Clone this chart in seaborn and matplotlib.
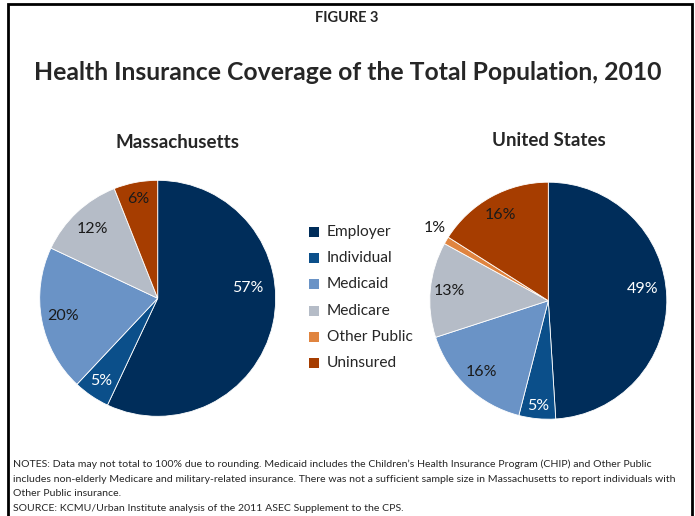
import numpy as np
import matplotlib
matplotlib.use("Agg")
import matplotlib.pyplot as plt
import seaborn as sns

sns.set_theme(style="white")
plt.rcParams['font.family'] = ['Lato', 'DejaVu Sans']

categories = ["Employer", "Individual", "Medicaid", "Medicare", "Other Public", "Uninsured"]
ma_values = [57, 5, 20, 12, 0, 6]
us_values = [49, 5, 16, 13, 1, 16]
panel_titles = ["Massachusetts", "United States"]

colors = sns.color_palette(["#002D5A", "#0B4F8A", "#6A93C6", "#B5BCC7", "#E0843F", "#A63D00"])
label_colors = ["white", "white", "#1a1a1a", "#1a1a1a", "#1a1a1a", "#1a1a1a"]

W, H = 695, 516
fig = plt.figure(figsize=(W / 100, H / 100), dpi=100)

# frame
fig.add_artist(plt.Rectangle((8 / W, -0.01), (692 - 8) / W, (516 - 4) / H + 0.01,
                             transform=fig.transFigure, fill=False, edgecolor="black", lw=2))

def px_axes(cx, cy, r):
    return fig.add_axes([(cx - r) / W, (H - cy - r) / H, 2 * r / W, 2 * r / H])

def draw_pie(ax, values, dists, shifts):
    wedges, _ = ax.pie(values, colors=colors, startangle=90, counterclock=False,
                       radius=1, wedgeprops=dict(edgecolor="white", linewidth=0.6))
    for w, v, d, s, tc in zip(wedges, values, dists, shifts, label_colors):
        if v == 0:
            w.set_visible(False)
            continue
        ang = np.deg2rad((w.theta1 + w.theta2) / 2 + s)
        ax.text(d * np.cos(ang), d * np.sin(ang), f"{v}%", ha="center", va="center",
                fontsize=11.5, color=tc if d < 1 else "#1a1a1a")
    ax.set_xlim(-1, 1)
    ax.set_ylim(-1, 1)
    ax.set_aspect("equal")
    ax.axis("off")

ax1 = px_axes(157.7, 298.3, 118)
draw_pie(ax1, ma_values, [0.77, 0.85, 0.82, 0.81, 0.85, 0.86], [19, 0, 0, 0, 0, 0])
ax2 = px_axes(548.3, 300.7, 118.5)
draw_pie(ax2, us_values, [0.80, 0.89, 0.83, 0.84, 1.14, 0.83], [5, 0, 0, 0, -2, 0])

fig.text(347 / W, 1 - 18 / H, "FIGURE 3", ha="center", va="center", fontsize=10.5, fontweight="bold")
fig.text(348 / W, 1 - 73 / H, "Health Insurance Coverage of the Total Population, 2010",
         ha="center", va="center", fontsize=17.8, fontweight="bold")
fig.text(178 / W, 1 - 142 / H, panel_titles[0], ha="center", va="center", fontsize=13.5, fontweight="bold")
fig.text(549 / W, 1 - 141 / H, panel_titles[1], ha="center", va="center", fontsize=13.5, fontweight="bold")

# legend
for i, (c, lab) in enumerate(zip(colors, categories)):
    y = 232 + i * 26.2
    fig.add_artist(plt.Rectangle((309 / W, 1 - (y + 5) / H), 10 / W, 10 / H,
                                 transform=fig.transFigure, color=c, lw=0))
    fig.text(327 / W, 1 - y / H, lab, ha="left", va="center", fontsize=11.2)

notes = ["NOTES: Data may not total to 100% due to rounding. Medicaid includes the Children\u2019s Health Insurance Program (CHIP) and Other Public",
         "includes non-elderly Medicare and military-related insurance. There was not a sufficient sample size in Massachusetts to report individuals with",
         "Other Public insurance.",
         "SOURCE: KCMU/Urban Institute analysis of the 2011 ASEC Supplement to the CPS."]
for i, line in enumerate(notes):
    fig.text(13 / W, 1 - (464.5 + i * 14.6) / H, line, ha="left", va="center", fontsize=7.55)

fig.savefig("out.png", dpi=100)
